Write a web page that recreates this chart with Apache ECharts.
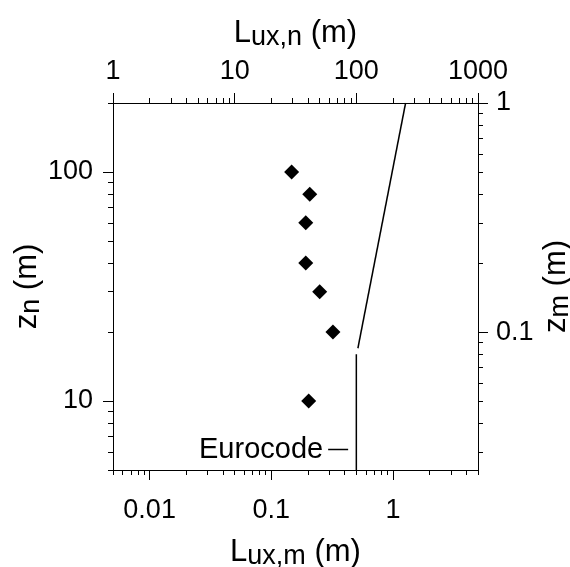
<!DOCTYPE html>
<html><head><meta charset="utf-8">
<script src="https://cdn.jsdelivr.net/npm/echarts@6/dist/echarts.min.js"></script>
<style>html,body{margin:0;padding:0;background:#fff}#c{width:570px;height:567px}</style>
</head><body><div id="c"></div>
<script>
// ---- data ----
const zn = [100, 80, 60, 40, 30, 20, 10];                       // height, full scale (m)
const luxM = [0.147, 0.207, 0.192, 0.192, 0.25, 0.321, 0.203];   // Lux model scale (m)
const euroVertL = [0.5, 0.5];
const euroVertZ = [5, 16];
const euroSlopeL = [0.515, 1.27];
const euroSlopeZ = [17, 200];
// ---- axes ----
const bottomTicks = [0.01, 0.1, 1];
const topTicks = [1, 10, 100, 1000];
const leftTicks = [10, 100];
const rightTicks = [0.1, 1];
const bottomRange = [0.005, 5];
const topRange = [1, 1000];
const leftRange = [5, 200];
const rightRange = [0.025, 1];

function minorTicks(lo, hi) {
  const out = [];
  for (let e = -4; e <= 4; e++) {
    const p = Math.pow(10, e);
    for (let m = 2; m <= 9; m++) {
      const v = +(m * p).toPrecision(6);
      if (v >= lo * 0.9999 && v <= hi * 1.0001) out.push(v);
    }
  }
  return out;
}
const FONT = '"Liberation Sans", Arial, Helvetica, sans-serif';
const richName = {
  m: { fontSize: 31, fontFamily: FONT, color: '#000' },
  s: { fontSize: 27, fontFamily: FONT, color: '#000', padding: [9, 0, 0, 0] }
};
function major(pos, range, ticks, name, nameGap, margin) {
  return {
    type: 'log', logBase: 10, position: pos, min: range[0], max: range[1],
    gridIndex: 0,
    name: name, nameLocation: 'middle', nameGap: nameGap, nameMoveOverlap: false,
    nameRotate: (pos === 'left' || pos === 'right') ? 90 : 0,
    nameTextStyle: { rich: richName, fontFamily: FONT, fontSize: 31, color: '#000' },
    axisLine: { show: true, onZero: false, lineStyle: { color: '#000', width: 1 } },
    axisTick: { show: true, inside: false, length: 10, customValues: ticks, lineStyle: { color: '#000', width: 1 } },
    axisLabel: { show: true, margin: margin, customValues: ticks, fontSize: 27, fontFamily: FONT, color: '#000',
      formatter: v => String(+(+v).toPrecision(6)) },
    splitLine: { show: false }, minorTick: { show: false }, minorSplitLine: { show: false }
  };
}
function minor(pos, range) {
  return {
    type: 'log', logBase: 10, position: pos, min: range[0], max: range[1], gridIndex: 0,
    axisLine: { show: false, onZero: false },
    axisTick: { show: true, inside: false, length: 5, customValues: minorTicks(range[0], range[1]), lineStyle: { color: '#000', width: 1 } },
    axisLabel: { show: false },
    splitLine: { show: false }
  };
}

const chart = echarts.init(document.getElementById('c'), null, { renderer: 'canvas' });
chart.setOption({
  backgroundColor: '#fff',
  animation: false,
  grid: { left: 113, top: 103, width: 365, height: 367, containLabel: false, outerBoundsMode: 'none' },
  legend: {
    data: [{ name: 'Eurocode', icon: 'rect' }], left: 194, top: 430, align: 'right',
    itemWidth: 20, itemHeight: 1.5, itemGap: 0,
    itemStyle: { color: '#000' },
    textStyle: { fontSize: 29, fontFamily: FONT, color: '#000' },
    selectedMode: false
  },
  xAxis: [
    major('bottom', bottomRange, bottomTicks, '{m|L}{s|ux,m}{m| (m)}', 64, 27),
    minor('bottom', bottomRange),
    major('top', topRange, topTicks, '{m|L}{s|ux,n}{m| (m)}', 52, 18),
    minor('top', topRange)
  ],
  yAxis: [
    major('left', leftRange, leftTicks, '{m|z}{s|n}{m| (m)}', 68, 20),
    minor('left', leftRange),
    major('right', rightRange, rightTicks, '{m|z}{s|m}{m| (m)}', 60, 18),
    minor('right', rightRange)
  ],
  series: [
    {
      name: 'data', type: 'scatter', xAxisIndex: 0, yAxisIndex: 0,
      symbol: 'diamond', symbolSize: 15,
      itemStyle: { color: '#000', opacity: 1 },
      data: luxM.map((v, i) => [v, zn[i]])
    },
    {
      name: 'Eurocode', type: 'line', xAxisIndex: 0, yAxisIndex: 0,
      symbol: 'none', lineStyle: { color: '#000', width: 1.5 },
      itemStyle: { color: '#000' },
      data: euroVertL.map((v, i) => [v, euroVertZ[i]])
    },
    {
      name: 'Eurocode', type: 'line', xAxisIndex: 0, yAxisIndex: 0,
      symbol: 'none', lineStyle: { color: '#000', width: 1.5 },
      itemStyle: { color: '#000' },
      data: euroSlopeL.map((v, i) => [v, euroSlopeZ[i]])
    }
  ]
});
</script></body></html>
